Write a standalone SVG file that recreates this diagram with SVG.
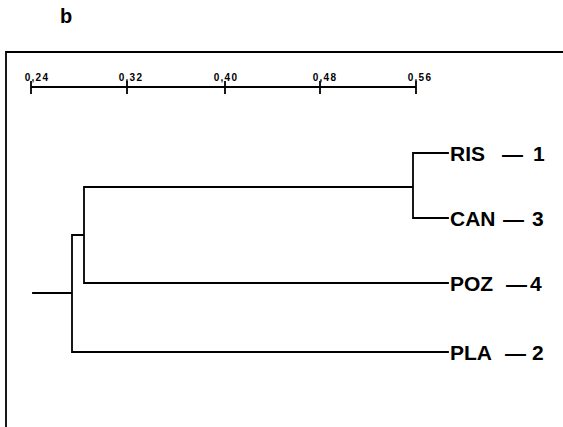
<svg xmlns="http://www.w3.org/2000/svg" width="563" height="427" viewBox="0 0 563 427">
<style>
.ln{stroke:#000;stroke-width:1.8;fill:none;stroke-linecap:square}
.ax{font-family:"Liberation Sans",Arial,sans-serif;font-weight:bold;font-size:10px;letter-spacing:1.3px;text-anchor:middle;fill:#000}
.lb{font-family:"Liberation Sans",Arial,sans-serif;font-weight:bold;font-size:21px;fill:#000}
</style>
<rect width="563" height="427" fill="#fff"/>
<text x="60" y="23" font-family="'Liberation Sans',Arial,sans-serif" font-weight="bold" font-size="20">b</text>
<g id="frame">
<path class="ln" d="M6,430 V52 H566"/>
</g>
<g id="scale">
<path class="ln" d="M31,87 H416 M31,82 V93 M127,82 V93 M225,82 V93 M320,82 V93 M416,82 V93"/>
<text class="ax" x="37" y="81">0,24</text>
<text class="ax" x="131" y="81">0,32</text>
<text class="ax" x="226" y="81">0,40</text>
<text class="ax" x="325" y="81">0,48</text>
<text class="ax" x="420" y="81">0,56</text>
</g>
<g id="connectors">
<path class="ln" d="M33,293 H72 M72,235 V352 M72,235 H84 M84,187 V283 M84,187 H413 M84,283 H448 M72,352 H448 M413,153 V218 M413,153 H448 M413,218 H448"/>
</g>
<g id="node-RIS"><text class="lb" x="450" y="161">RIS<tspan x="502">—</tspan><tspan x="533">1</tspan></text></g>
<g id="node-CAN"><text class="lb" x="450" y="226">CAN<tspan x="503">—</tspan><tspan x="532">3</tspan></text></g>
<g id="node-POZ"><text class="lb" x="450" y="291">POZ<tspan x="506">—</tspan><tspan x="530">4</tspan></text></g>
<g id="node-PLA"><text class="lb" x="450" y="360">PLA<tspan x="505">—</tspan><tspan x="532">2</tspan></text></g>
</svg>
